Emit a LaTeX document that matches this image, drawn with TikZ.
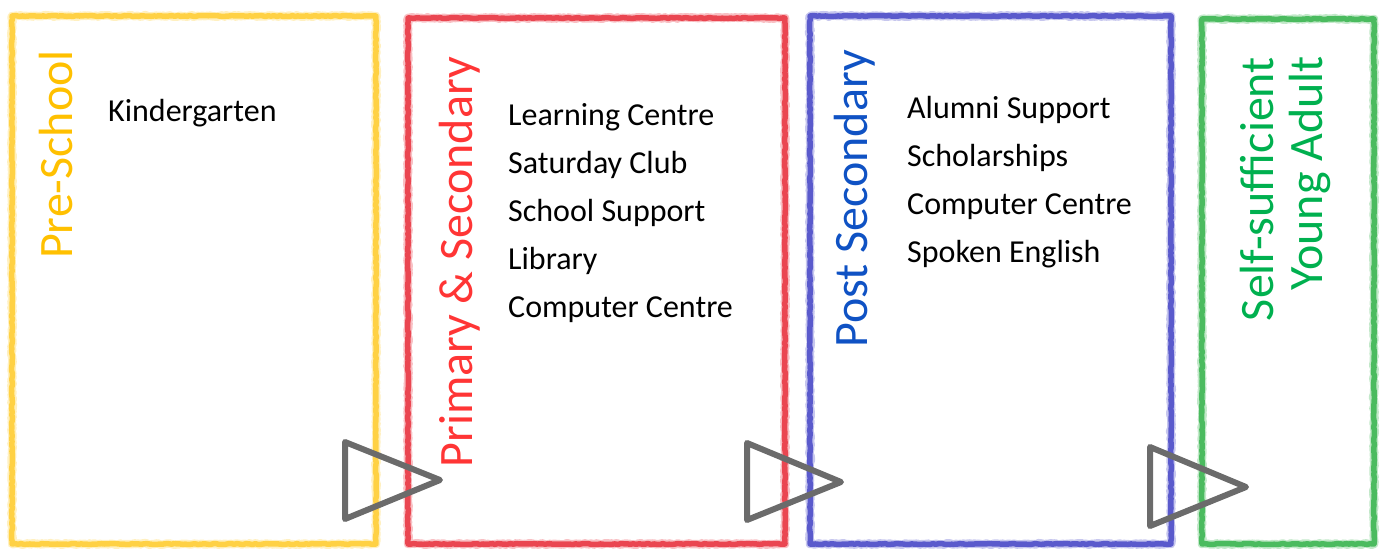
\documentclass[tikz,border=0pt]{standalone}
\usepackage{fontspec}
\setmainfont{Carlito}
\usetikzlibrary{decorations.pathmorphing}

\definecolor{presch}{HTML}{FFC000}
\definecolor{preschline}{HTML}{FFCC2E}
\definecolor{primsec}{HTML}{FF3535}
\definecolor{primsecline}{HTML}{E8303C}
\definecolor{postsec}{HTML}{0F52C4}
\definecolor{postsecline}{HTML}{4646C6}
\definecolor{selfsuff}{HTML}{00B04F}
\definecolor{selfsuffline}{HTML}{36B34C}
\definecolor{pointergray}{HTML}{6B6B6B}

\tikzset{
  crayon/.style={line width=5.5pt, opacity=0.85, line join=round,
    decorate, decoration={random steps, segment length=3pt, amplitude=0.5pt}},
  crayonhaze/.style={line width=8.5pt, opacity=0.3, line join=round,
    decorate, decoration={random steps, segment length=2pt, amplitude=0.8pt}},
  stagetitle/.style={rotate=90, anchor=base east, inner sep=0pt,
    font=\fontsize{48}{49}\selectfont},
  stageitem/.style={anchor=base west, inner sep=0pt,
    font=\fontsize{32}{40}\selectfont},
  pointer/.style={draw=pointergray, line width=6pt, line join=round}
}

\begin{document}
\begin{tikzpicture}[x=1pt,y=-1pt]
	\useasboundingbox (0,0) rectangle (1385,549);

	% stage frames
	\foreach \col/\xa/\ya/\xb in {preschline/12/16/376, primsecline/408/18/785,
			postsecline/810/16/1171, selfsuffline/1202/19/1374}
	{
		\draw[crayonhaze, \col] (\xa,\ya) rectangle (\xb,544);
		\draw[crayon, \col] (\xa,\ya) rectangle (\xb,544);
	}

	% stage titles
	\node[stagetitle, presch] (preschool) at (72,50) {Pre-School};
	\node[stagetitle, primsec] (primary) at (472,57) {Primary \& Secondary};
	\node[stagetitle, postsec] (postsecondary) at (867,50) {Post Secondary};
	\node[stagetitle, selfsuff] (selfsufficient) at (1273,57) {Self-sufficient};
	\node[stagetitle, selfsuff] (youngadult) at (1322,56) {Young Adult};

	% programmes
	\node[stageitem] (kinder) at (108,121) {Kindergarten};
	\foreach \txt [count=\i from 0] in {Learning Centre, Saturday Club, School Support, Library, Computer Centre}
		\node[stageitem] (ps\i) at (508,{125+48*\i}) {\txt};
	\foreach \txt [count=\i from 0] in {Alumni Support, Scholarships, Computer Centre, Spoken English}
		\node[stageitem] (pos\i) at (907,{118+48*\i}) {\txt};

	% pointers between stages
	\coordinate (T1a) at (345,442);
	\coordinate (T1b) at (345,519);
	\coordinate (T1c) at (440,480);
	\coordinate (T2a) at (747,443);
	\coordinate (T2b) at (747,520);
	\coordinate (T2c) at (841,482);
	\coordinate (T3a) at (1150,447);
	\coordinate (T3b) at (1150,526);
	\coordinate (T3c) at (1246,487);

	\draw[pointer] (T1a) -- (T1c) -- (T1b) -- cycle;
	\draw[pointer] (T2a) -- (T2c) -- (T2b) -- cycle;
	\draw[pointer] (T3a) -- (T3c) -- (T3b) -- cycle;

\end{tikzpicture}
\end{document}
